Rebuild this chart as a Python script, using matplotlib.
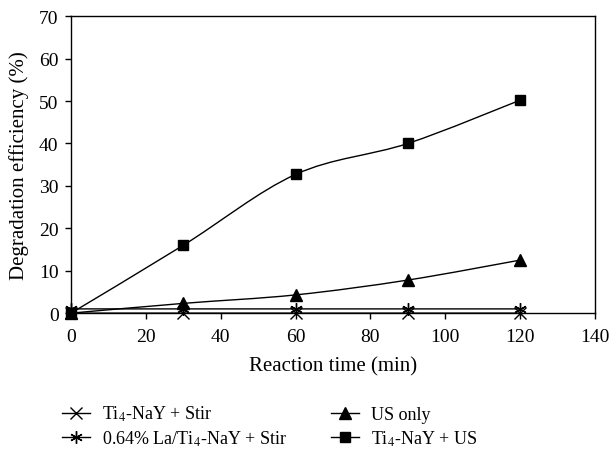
import numpy as np
import matplotlib
matplotlib.use("Agg")
import matplotlib.pyplot as plt
from matplotlib.path import Path
from matplotlib.patches import PathPatch
from matplotlib.lines import Line2D

plt.rcParams['font.family'] = ['Liberation Serif', 'DejaVu Serif']
plt.rcParams['mathtext.fontset'] = 'stix'

time = [0, 30, 60, 90, 120]
stir = [0.0, 0.0, 0.0, 0.0, 0.0]
la_stir = [1.0, 1.0, 1.0, 1.0, 1.0]
us_only = [0.0, 2.3, 4.3, 7.8, 12.5]
ti_us = [0.0, 16.0, 32.7, 40.0, 50.2]

labels = [r'Ti$_4$-NaY + Stir', r'0.64% La/Ti$_4$-NaY + Stir',
          'US only', r'Ti$_4$-NaY + US']
markers = ['x', (6, 2, 0), '^', 's']
msizes = [8, 9, 8, 7]


def smooth_path(xs, ys):
    # Catmull-Rom -> cubic bezier, like Excel's smoothed line
    pts = np.column_stack([xs, ys]).astype(float)
    verts = [pts[0]]
    codes = [Path.MOVETO]
    n = len(pts)
    for i in range(n - 1):
        p0 = pts[i - 1] if i > 0 else pts[i]
        p1 = pts[i]
        p2 = pts[i + 1]
        p3 = pts[i + 2] if i + 2 < n else pts[i + 1]
        c1 = p1 + (p2 - p0) / 6.0
        c2 = p2 - (p3 - p1) / 6.0
        verts += [c1, c2, p2]
        codes += [Path.CURVE4] * 3
    return Path(verts, codes)


fig = plt.figure(figsize=(6.1, 4.52), dpi=100)
ax = fig.add_axes([0.1164, 0.305, 0.8590, 0.657])

series = [stir, la_stir, us_only, ti_us]
handles = []
for ys, lab, m, ms in zip(series, labels, markers, msizes):
    ax.add_patch(PathPatch(smooth_path(time, ys), facecolor='none',
                           edgecolor='black', lw=1.0, clip_on=False))
    ax.plot(time, ys, linestyle='none', marker=m, markersize=ms,
            color='black', markeredgewidth=1.0, clip_on=False, zorder=3)
    handles.append(Line2D([], [], color='black', lw=1.0, marker=m,
                          markersize=ms, markeredgewidth=1.0))

ax.set_xlim(0, 140)
ax.set_ylim(0, 70)
ax.set_xticks(range(0, 141, 20))
ax.set_yticks(range(0, 71, 10))
ax.tick_params(direction='out', length=4, width=1, labelsize=14,
               colors='black')
ax.tick_params(axis='x', pad=7)
ax.tick_params(axis='y', pad=5)
for s in ax.spines.values():
    s.set_linewidth(1.0)
    s.set_color('black')

ax.set_xlabel('Reaction time (min)', fontsize=15, labelpad=8)
ax.set_ylabel('Degradation efficiency (%)', fontsize=15, labelpad=7)

fig.legend(handles, labels,
           ncol=2, loc='upper left', bbox_to_anchor=(0.075, 0.14),
           frameon=False, fontsize=13, handlelength=1.55,
           columnspacing=2.4, labelspacing=0.3, handletextpad=0.67)

fig.savefig('out.png', dpi=100)
